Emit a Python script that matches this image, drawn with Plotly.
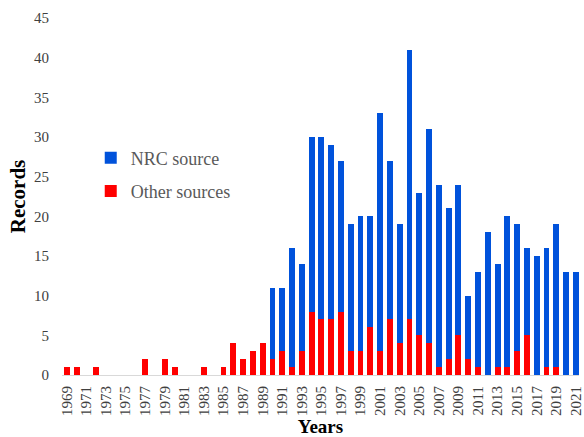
import plotly.graph_objects as go

# ── data ──────────────────────────────────────────────────────────────────────
years = list(range(1969, 2022))
totals = [
    1, 1, 0, 1, 0, 0, 0, 0, 2, 0,      # 1969-1978
    2, 1, 0, 0, 1, 0, 1, 4, 2, 3,      # 1979-1988
    4, 11, 11, 16, 14, 30, 30, 29, 27, 19,   # 1989-1998
    20, 20, 33, 27, 19, 41, 23, 31, 24, 21,  # 1999-2008
    24, 10, 13, 18, 14, 20, 19, 16, 15, 16,  # 2009-2018
    19, 13, 13,                               # 2019-2021
]
other = [
    1, 1, 0, 1, 0, 0, 0, 0, 2, 0,
    2, 1, 0, 0, 1, 0, 1, 4, 2, 3,
    4, 2, 3, 1, 3, 8, 7, 7, 8, 3,
    3, 6, 3, 7, 4, 7, 5, 4, 1, 2,
    5, 2, 1, 0, 1, 1, 3, 5, 0, 1,
    1, 0, 0,
]
nrc = [t - o for t, o in zip(totals, other)]

_BLUE = "#0052DB"
_RED = "#FF0000"
_TEXT = "#595959"
_FONT = "Liberation Serif"

fig = go.Figure()
fig.add_trace(go.Bar(
    x=years, y=other, name="Other sources", legendgroup="b", legendrank=2,
    marker=dict(color=_RED, line=dict(width=0)),
))
fig.add_trace(go.Bar(
    x=years, y=nrc, name="NRC source", legendgroup="a", legendrank=1,
    marker=dict(color=_BLUE, line=dict(width=0)),
))

fig.update_layout(
    width=584, height=437,
    barmode="stack", bargap=0.4,
    paper_bgcolor="white", plot_bgcolor="white",
    font=dict(family=_FONT, color=_TEXT, size=15),
    margin=dict(l=62, r=0, t=18, b=62),
    legend=dict(
        x=0.0556, y=0.5616, xanchor="left", yanchor="middle",
        traceorder="grouped", tracegroupgap=7,
        font=dict(size=18, color=_TEXT, family=_FONT),
        bgcolor="rgba(0,0,0,0)",
    ),
    xaxis=dict(
        range=[1968.5, 2021.32], tickmode="linear", tick0=1969, dtick=2,
        tickangle=-90, showgrid=False, zeroline=False,
        showline=True, linecolor="#d9d9d9", linewidth=1,
        tickfont=dict(size=15, color="#404040", family=_FONT),
        ticklabelstandoff=4, ticklabeloverflow="allow",
        title=dict(text="<b>Years</b>", standoff=2,
                   font=dict(size=19, color="#000000", family=_FONT)),
    ),
    yaxis=dict(
        range=[0, 45], dtick=5, showgrid=False, zeroline=False,
        showline=False, tickfont=dict(size=15, color="#404040", family=_FONT),
        ticklabelstandoff=12,
        title=dict(text="<b>Records</b>", standoff=2,
                   font=dict(size=21, color="#000000", family=_FONT)),
    ),
)

# drop the default body margin so the figure sits at the page's top-left corner
fig.write_html(
    "out.html",
    config={"displayModeBar": False},
    post_script="document.body.style.margin='0';document.body.style.overflow='hidden';",
)
